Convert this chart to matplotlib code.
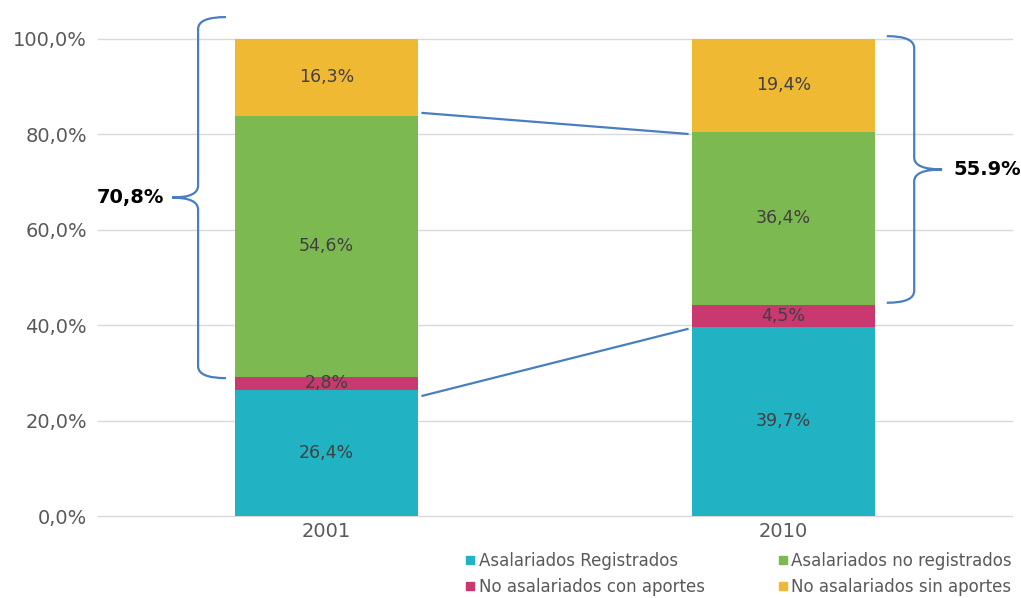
import matplotlib
matplotlib.use("Agg")
import matplotlib.pyplot as plt
from matplotlib.path import Path
from matplotlib.patches import PathPatch
from matplotlib.lines import Line2D
import numpy as np

years = ["2001", "2010"]
series_names = ["Asalariados Registrados", "No asalariados con aportes",
                "Asalariados no registrados", "No asalariados sin aportes"]
reg = [26.4, 39.7]
con_aportes = [2.8, 4.5]
no_reg = [54.6, 36.4]
sin_aportes = [16.3, 19.4]
brace_labels = ["70,8%", "55.9%"]
yticks = [0, 20, 40, 60, 80, 100]
ytick_labels = ["0,0%", "20,0%", "40,0%", "60,0%", "80,0%", "100,0%"]

colors = ["#21B3C3", "#C9396F", "#7DB951", "#F0B933"]
plt.rcParams['font.family'] = ['DejaVu Sans']

fig = plt.figure(figsize=(10.21, 5.98), dpi=100)
ax = fig.add_axes([98/1021, 1-516/598, (1012-98)/1021, (516-39)/598])

x = np.arange(len(years))
w = 0.4
stack = [reg, con_aportes, no_reg, sin_aportes]
bottom = np.zeros(len(years))
for vals, c in zip(stack, colors):
    vals = np.array(vals)
    ax.bar(x, vals, w, bottom=bottom, color=c, zorder=3)
    for xi, b, v in zip(x, bottom, vals):
        lab = f"{v:.1f}".replace(".", ",") + "%"
        ax.text(xi, b + v/2, lab, ha="center", va="center", fontsize=12.5,
                color="#404040", zorder=4)
    bottom = bottom + vals

ax.set_xlim(-0.5, 1.5)
ax.set_ylim(0, 100)
ax.set_yticks(yticks)
ax.set_yticklabels(ytick_labels)
ax.set_xticks(x)
ax.set_xticklabels(years)
ax.tick_params(axis="both", length=0, labelsize=14, labelcolor="#595959")
ax.tick_params(axis="y", pad=8)
ax.tick_params(axis="x", pad=4)
for s in ax.spines.values():
    s.set_visible(False)
ax.grid(axis="y", color="#d9d9d9", linewidth=1, zorder=0)
ax.set_axisbelow(True)
for gl in ax.get_ygridlines():
    gl.set_clip_on(False)

line_c = "#4A7EBF"
# connecting lines
top_green = np.array(reg) + np.array(con_aportes) + np.array(no_reg)
ax.plot([x[0] + w/2 + 0.01, x[1] - w/2 - 0.01], [top_green[0] + 0.7, top_green[1] - 0.5],
        color=line_c, lw=1.6, clip_on=False, zorder=5)
ax.plot([x[0] + w/2 + 0.01, x[1] - w/2 - 0.01], [reg[0] - 1.2, reg[1] - 0.5],
        color=line_c, lw=1.6, clip_on=False, zorder=5)


def brace(ax, xv, xend, xtip, ytop, ybot, r=2.5):
    ymid = (ytop + ybot) / 2
    verts = [
        (xend, ytop), (xv, ytop), (xv, ytop - r),
        (xv, ymid + r), (xv, ymid), (xtip, ymid),
        (xv, ymid), (xv, ymid - r),
        (xv, ybot + r), (xv, ybot), (xend, ybot),
    ]
    codes = [Path.MOVETO, Path.CURVE3, Path.CURVE3,
             Path.LINETO, Path.CURVE3, Path.CURVE3,
             Path.CURVE3, Path.CURVE3,
             Path.LINETO, Path.CURVE3, Path.CURVE3]
    p = PathPatch(Path(verts, codes), fill=False, edgecolor=line_c, lw=1.6,
                  clip_on=False, zorder=5)
    ax.add_patch(p)
    return ymid

# left brace (2001): covers no registrados + sin aportes
lb_bot = reg[0] + con_aportes[0] - 0.3
lb_top = 104.6
ym = brace(ax, -0.281, -0.22, -0.338, lb_top, lb_bot)
ax.text(-0.355, ym, brace_labels[0], ha="right", va="center", fontsize=14,
        fontweight="bold", color="black")

# right brace (2010)
rb_bot = reg[1] + con_aportes[1] + 0.5
rb_top = 100.6
ym = brace(ax, 1.286, 1.226, 1.347, rb_top, rb_bot)
ax.text(1.372, ym, brace_labels[1], ha="left", va="center", fontsize=14,
        fontweight="bold", color="black")

handles = [Line2D([], [], marker="s", linestyle="none", markersize=6,
                  markerfacecolor=c, markeredgecolor=c) for c in colors]
fig.legend(handles, series_names, ncol=2, loc="upper left",
           bbox_to_anchor=(462/1021, 1-552/598), frameon=False,
           fontsize=12, handletextpad=0.0, columnspacing=4.2,
           labelspacing=0.45, handlelength=1.0, labelcolor="#595959",
           borderaxespad=0, borderpad=0)

fig.savefig("out.png", dpi=100)
